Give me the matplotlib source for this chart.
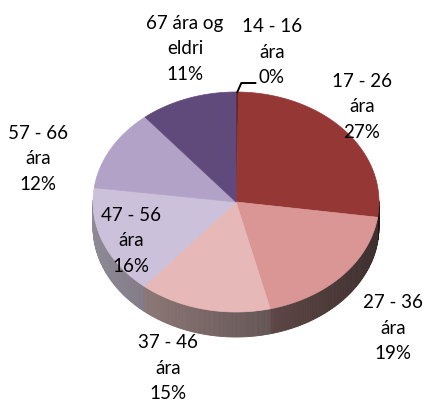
import numpy as np
import matplotlib.pyplot as plt
from matplotlib.patches import Polygon
from matplotlib.colors import to_rgb

labels = ['14 - 16\nára', '17 - 26\nára', '27 - 36\nára', '37 - 46\nára',
          '47 - 56\nára', '57 - 66\nára', '67 ára og\neldri']
values = [0.3, 27, 19, 15, 16, 12, 11]
colors = ['#632523', '#953735', '#D99694', '#E6B9B8', '#CCC1DA', '#B3A2C7', '#604A7B']

# label centres (pixels) - layout only
label_pos = [(272, 52), (362, 107), (393, 328), (168, 368),
             (131, 241), (38, 159), (185, 49)]

cx, cy, a, b, depth = 236, 202, 143, 110, 25

fig = plt.figure(figsize=(4.27, 4.03), dpi=100)
ax = fig.add_axes([0, 0, 1, 1])
ax.set_xlim(0, 427)
ax.set_ylim(403, 0)
ax.axis('off')

total = sum(values)
fracs = [v / total for v in values]
cum = np.concatenate([[0], np.cumsum(fracs)])


def pt(th):
    return cx + a * np.cos(th), cy - b * np.sin(th)


def shade(c, th):
    f = 0.5 - 0.2 * np.cos(th)
    r = np.array(to_rgb(c))
    gray = r.mean()
    r = 0.75 * r + 0.25 * gray
    return tuple(np.clip(r * f, 0, 1))


# side walls (front half only)
for i, c in enumerate(colors):
    t0 = np.deg2rad(90 - 360 * cum[i])
    t1 = np.deg2rad(90 - 360 * cum[i + 1])
    ths = np.linspace(t0, t1, 80)
    for k in range(len(ths) - 1):
        m = 0.5 * (ths[k] + ths[k + 1])
        if np.sin(m) >= 0.02:
            continue
        x0, y0 = pt(ths[k])
        x1, y1 = pt(ths[k + 1])
        poly = [(x0, y0), (x1, y1), (x1, y1 + depth), (x0, y0 + depth)]
        ax.add_patch(Polygon(poly, closed=True, facecolor=shade(c, m),
                             edgecolor=shade(c, m), lw=0.6))

# top face
for i, c in enumerate(colors):
    t0 = np.deg2rad(90 - 360 * cum[i])
    t1 = np.deg2rad(90 - 360 * cum[i + 1])
    ths = np.linspace(t0, t1, max(3, int(abs(t1 - t0) * 60)))
    xs, ys = pt(ths)
    poly = [(cx, cy)] + list(zip(xs, ys))
    ax.add_patch(Polygon(poly, closed=True, facecolor=c, edgecolor=c, lw=0.5))

# labels
for i, (lab, (lx, ly)) in enumerate(zip(labels, label_pos)):
    txt = '%s\n%d%%' % (lab, round(values[i]))
    ax.text(lx, ly, txt, ha='center', va='center', fontsize=13.5,
            family='Lato', linespacing=1.6, color='black')

# leader line for the tiny slice
tm = np.deg2rad(90 - 360 * (cum[0] + cum[1]) / 2)
sx, sy = pt(tm)
ax.plot([sx, sx + 4, sx + 18], [sy, sy - 9, sy - 9], color='black', lw=1.4)

fig.savefig('out.png', dpi=100)
